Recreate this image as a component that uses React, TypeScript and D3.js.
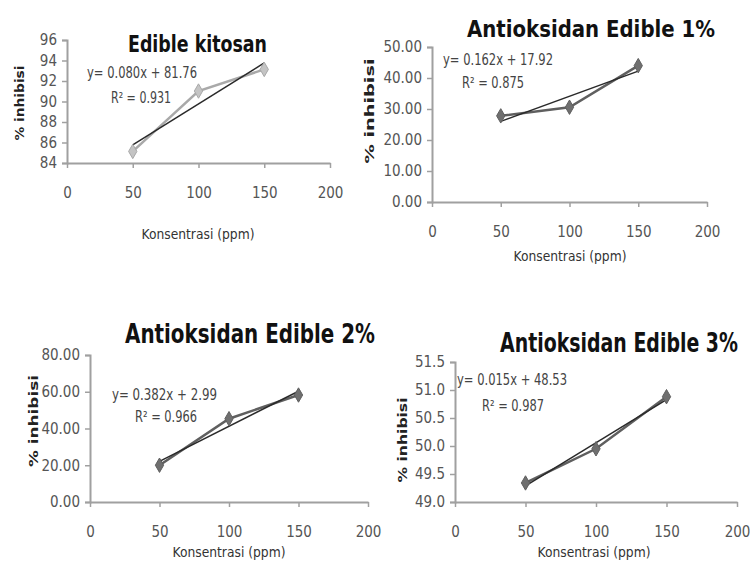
import React, { useEffect, useRef } from "react";
import * as d3 from "d3";

// values
const concentrations = [50, 100, 150];
const xTicks = [0, 50, 100, 150, 200];

const kitosanInhibition = [85.13, 91.02, 93.13];
const edible1Inhibition = [27.79, 30.58, 43.99];
const edible2Inhibition = [20.02, 45.33, 58.22];
const edible3Inhibition = [49.34, 49.95, 50.88];

const kitosanTicks = [84, 86, 88, 90, 92, 94, 96];
const edible1Ticks = [0, 10, 20, 30, 40, 50];
const edible2Ticks = [0, 20, 40, 60, 80];
const edible3Ticks = [49.0, 49.5, 50.0, 50.5, 51.0, 51.5];

const titles = [
  "Edible kitosan",
  "Antioksidan Edible 1%",
  "Antioksidan Edible 2%",
  "Antioksidan Edible 3%",
];
const equations = [
  "y= 0.080x + 81.76",
  "y= 0.162x + 17.92",
  "y= 0.382x + 2.99",
  "y= 0.015x + 48.53",
];
const rSquared = ["R² = 0.931", "R² = 0.875", "R² = 0.966", "R² = 0.987"];
const xLabel = "Konsentrasi (ppm)";
const yLabel = "% inhibisi";

const FONT = "'Liberation Sans Narrow', 'DejaVu Sans Condensed', 'Roboto', sans-serif";

interface PanelLayout {
  left: number;
  right: number;
  top: number;
  bottom: number;
  yFormat: string;
  title: { x: number; y: number; size: number; len: number; anchor: string; sy: number };
  eq: { x: number; y: number; len: number };
  r2: { x: number; y: number; len: number };
  yLab: { x: number; y: number; len: number };
  xLab: { x: number; y: number };
  series: string;
  marker: string;
}

const panels: { values: number[]; ticks: number[]; layout: PanelLayout }[] = [
  {
    values: kitosanInhibition,
    ticks: kitosanTicks,
    layout: {
      left: 67, right: 330, top: 40, bottom: 163, yFormat: "d",
      title: { x: 128, y: 52, size: 23, len: 139, anchor: "start", sy: 1 },
      eq: { x: 87, y: 78, len: 110 },
      r2: { x: 111, y: 103, len: 60 },
      yLab: { x: 24, y: 103, len: 75 },
      xLab: { x: 198, y: 239 },
      series: "#a9a9a9",
      marker: "#c4c4c4",
    },
  },
  {
    values: edible1Inhibition,
    ticks: edible1Ticks,
    layout: {
      left: 432, right: 707, top: 47, bottom: 202, yFormat: ".2f",
      title: { x: 467, y: 37, size: 23, len: 248, anchor: "start", sy: 1 },
      eq: { x: 443, y: 65, len: 110 },
      r2: { x: 462, y: 88, len: 62 },
      yLab: { x: 374, y: 111, len: 105 },
      xLab: { x: 570, y: 261 },
      series: "#5f5f5f",
      marker: "#6f6f6f",
    },
  },
  {
    values: edible2Inhibition,
    ticks: edible2Ticks,
    layout: {
      left: 90, right: 368, top: 355, bottom: 502, yFormat: ".2f",
      title: { x: 125, y: 343, size: 27, len: 250, anchor: "start", sy: 1 },
      eq: { x: 112, y: 400, len: 105 },
      r2: { x: 135, y: 422, len: 62 },
      yLab: { x: 38, y: 421, len: 92 },
      xLab: { x: 229, y: 557 },
      series: "#5f5f5f",
      marker: "#6f6f6f",
    },
  },
  {
    values: edible3Inhibition,
    ticks: edible3Ticks,
    layout: {
      left: 455, right: 737, top: 362, bottom: 502, yFormat: ".1f",
      title: { x: 738, y: 352, size: 20, len: 238, anchor: "end", sy: 1.3 },
      eq: { x: 457, y: 385, len: 110 },
      r2: { x: 482, y: 411, len: 62 },
      yLab: { x: 407, y: 440, len: 85 },
      xLab: { x: 594, y: 557 },
      series: "#5f5f5f",
      marker: "#6f6f6f",
    },
  },
];

// least squares line through the points
function fit(xs: number[], ys: number[]) {
  const mx = d3.mean(xs) ?? 0;
  const my = d3.mean(ys) ?? 0;
  const sxy = d3.sum(xs, (x, i) => (x - mx) * (ys[i] - my));
  const sxx = d3.sum(xs, (x) => (x - mx) ** 2);
  const slope = sxy / sxx;
  return { slope, intercept: my - slope * mx };
}

const App: React.FC = () => {
  const chartRef = useRef<SVGSVGElement | null>(null);

  useEffect(() => {
    const svg = d3.select(chartRef.current);
    svg.selectAll("*").remove();

    svg.append("rect").attr("width", 750).attr("height", 563).attr("fill", "#fff");

    panels.forEach((p, idx) => {
      const L = p.layout;
      const g = svg.append("g");

      const x = d3.scaleLinear().domain([0, 200]).range([L.left, L.right]);
      const y = d3
        .scaleLinear()
        .domain([p.ticks[0], p.ticks[p.ticks.length - 1]])
        .range([L.bottom, L.top]);

      // Axes
      const yAxis = g
        .append("g")
        .attr("transform", `translate(${L.left},0)`)
        .call(
          d3.axisLeft(y).tickValues(p.ticks).tickSize(5).tickPadding(5)
            .tickFormat(d3.format(L.yFormat) as any)
        );
      const xAxis = g
        .append("g")
        .attr("transform", `translate(0,${L.bottom})`)
        .call(d3.axisBottom(x).tickValues(xTicks).tickSize(5).tickPadding(19).tickSizeOuter(0));

      [yAxis, xAxis].forEach((a) => {
        a.select(".domain").attr("stroke", "#a0a0a0").attr("stroke-width", 2);
        a.selectAll(".tick line").attr("stroke", "#a0a0a0").attr("stroke-width", 1.5);
        a.selectAll(".tick text")
          .attr("fill", "#555")
          .attr("font-size", 15)
          .attr("font-family", FONT);
      });

      // Series line + markers
      const pts = concentrations.map((c, i) => [c, p.values[i]] as [number, number]);
      const line = d3.line<[number, number]>().x((d) => x(d[0])).y((d) => y(d[1]));
      g.append("path")
        .attr("d", line(pts))
        .attr("fill", "none")
        .attr("stroke", L.series)
        .attr("stroke-width", 2.5);

      // Trendline
      const { slope, intercept } = fit(concentrations, p.values);
      const ends = [concentrations[0], concentrations[concentrations.length - 1]].map(
        (c) => [c, slope * c + intercept] as [number, number]
      );
      g.append("path")
        .attr("d", line(ends))
        .attr("fill", "none")
        .attr("stroke", "#2a2a2a")
        .attr("stroke-width", 1.5);

      g.selectAll("path.marker")
        .data(pts)
        .enter()
        .append("path")
        .attr("class", "marker")
        .attr("d", d3.symbol(d3.symbolDiamond, 60)())
        .attr("transform", (d) => `translate(${x(d[0])},${y(d[1])})`)
        .attr("fill", L.marker)
        .attr("stroke", L.series)
        .attr("stroke-width", 1);

      // Title
      g.append("text")
        .attr("transform", `translate(${L.title.x},${L.title.y}) scale(1,${L.title.sy})`)
        .attr("text-anchor", L.title.anchor)
        .attr("font-family", FONT)
        .attr("font-weight", "bold")
        .attr("font-size", L.title.size)
        .attr("fill", "#111")
        .attr("textLength", L.title.len)
        .attr("lengthAdjust", "spacingAndGlyphs")
        .text(titles[idx]);

      // Equation + R²
      g.append("text")
        .attr("x", L.eq.x)
        .attr("y", L.eq.y)
        .attr("font-family", FONT)
        .attr("font-size", 15)
        .attr("fill", "#444")
        .attr("textLength", L.eq.len)
        .attr("lengthAdjust", "spacingAndGlyphs")
        .text(equations[idx]);
      g.append("text")
        .attr("x", L.r2.x)
        .attr("y", L.r2.y)
        .attr("font-family", FONT)
        .attr("font-size", 15)
        .attr("fill", "#444")
        .attr("textLength", L.r2.len)
        .attr("lengthAdjust", "spacingAndGlyphs")
        .text(rSquared[idx]);

      // Axis titles
      g.append("text")
        .attr("x", L.xLab.x)
        .attr("y", L.xLab.y)
        .attr("text-anchor", "middle")
        .attr("font-family", FONT)
        .attr("font-size", 14)
        .attr("fill", "#333")
        .attr("textLength", 113)
        .attr("lengthAdjust", "spacingAndGlyphs")
        .text(xLabel);
      g.append("text")
        .attr("transform", `translate(${L.yLab.x},${L.yLab.y}) rotate(-90)`)
        .attr("text-anchor", "middle")
        .attr("font-family", FONT)
        .attr("font-weight", "bold")
        .attr("font-size", 13)
        .attr("fill", "#222")
        .attr("textLength", L.yLab.len)
        .attr("lengthAdjust", "spacingAndGlyphs")
        .text(yLabel);
    });
  }, []);

  return (
    <svg
      ref={chartRef}
      width={750}
      height={563}
      style={{ position: "absolute", left: 0, top: 0 }}
    ></svg>
  );
};

export default App;
